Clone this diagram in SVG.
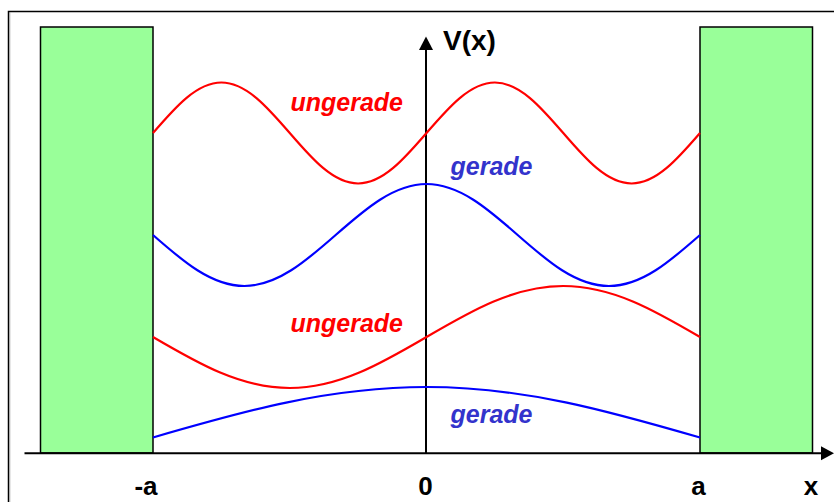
<svg xmlns="http://www.w3.org/2000/svg" width="834" height="502" viewBox="0 0 834 502">
<style>
.wall{fill:#99ff99;stroke:#000;stroke-width:1.5}
.axis{stroke:#000;stroke-width:2;fill:none}
.frame{stroke:#000;stroke-width:1.5;fill:none}
.wave{fill:none;stroke-width:2.2}
.red{stroke:#ff0000}
.blue{stroke:#0000ff}
.lbl{font-family:"Liberation Sans",Arial,sans-serif;font-weight:bold;fill:#000}
.wl{font-family:"Liberation Sans",Arial,sans-serif;font-weight:bold;font-style:italic;font-size:25px}
.tr{fill:#ff0000}
.tb{fill:#3333cc}
</style>
<rect width="834" height="502" fill="#fff"/>
<g id="frame">
<line x1="10" y1="12.5" x2="10" y2="502" stroke="#d0d0d0" stroke-width="1"/>
<path class="frame" d="M8.5,502 V11.5 H834"/>
</g>
<g id="wall-left"><rect class="wall" x="40.5" y="27" width="112.5" height="426"/></g>
<g id="wall-right"><rect class="wall" x="700" y="27" width="112.5" height="426"/></g>
<g id="connectors">
<g id="x-axis">
<line class="axis" x1="24.5" y1="453.3" x2="824" y2="453.3"/>
<polygon points="834,453.3 821,446.3 821,460.3" fill="#000"/>
</g>
<g id="v-axis">
<line class="axis" x1="426" y1="453.3" x2="426" y2="47"/>
<polygon points="426,36.5 419,50 433,50" fill="#000"/>
</g>
<path id="psi1" class="wave blue" d="M153,437.5 C242.1,411.65 327.8,387 426.5,387 C525.2,387 610.9,411.65 700,437.5"/>
<path id="psi2" class="wave red" d="M153,337 C197.55,363.1 240.4,388 289.75,388 C339.1,388 381.95,363.1 426.5,337 C471.05,310.9 513.9,286 563.25,286 C612.6,286 655.45,310.9 700,337"/>
<path id="psi3" class="wave blue" d="M153,235 C182.7,261.1 211.3,286 244.33,286 C277.2,286 305.97,261.1 335.67,235 C365.37,208.9 394,184 426.5,184 C459.4,184 488,208.9 517.67,235 C547.37,261.1 575.9,286 609,286 C641.9,286 670.3,261.1 700,235"/>
<path id="psi4" class="wave red" d="M153,133 C175.28,107.15 196.7,82.5 221.375,82.5 C246.06,82.5 267.47,107.15 289.75,133 C312.03,158.85 333.45,183.5 358.125,183.5 C382.8,183.5 404.22,158.85 426.5,133 C448.78,107.15 470.2,82.5 494.875,82.5 C519.56,82.5 540.97,107.15 563.25,133 C585.53,158.85 606.95,183.5 631.625,183.5 C656.3,183.5 677.72,158.85 700,133"/>
</g>
<g id="labels">
<text class="lbl" x="443" y="50" font-size="28">V(x)</text>
<text class="lbl" x="146" y="495" font-size="26" text-anchor="middle">-a</text>
<text class="lbl" x="425.5" y="495" font-size="26" text-anchor="middle">0</text>
<text class="lbl" x="698.5" y="495" font-size="26" text-anchor="middle">a</text>
<text class="lbl" x="811" y="495" font-size="26" text-anchor="middle">x</text>
<text class="wl tr" x="290.5" y="110.5">ungerade</text>
<text class="wl tb" x="450.5" y="174.5">gerade</text>
<text class="wl tr" x="290.5" y="331.5">ungerade</text>
<text class="wl tb" x="450.5" y="422.5">gerade</text>
</g>
</svg>
